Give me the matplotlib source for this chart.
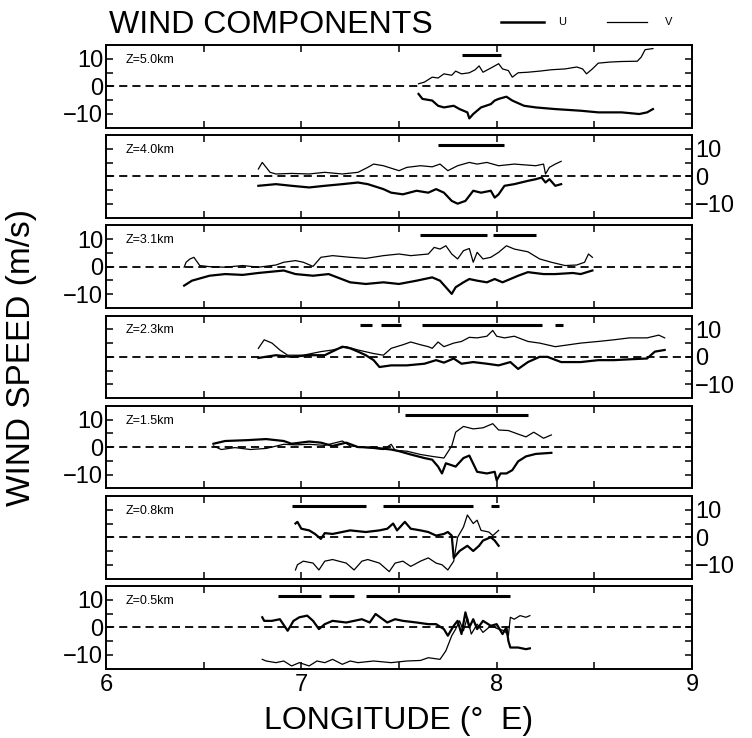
import matplotlib
matplotlib.use("Agg")
import matplotlib.pyplot as plt
from matplotlib.lines import Line2D
import numpy as np

plt.rcParams["font.family"] = ["Liberation Sans", "DejaVu Sans"]

# ---- data (longitude, m/s) ----
heights = ["Z=5.0km", "Z=4.0km", "Z=3.1km", "Z=2.3km", "Z=1.5km", "Z=0.8km", "Z=0.5km"]

# Z = 5.0 km
lon_u_50 = [7.60, 7.62, 7.67, 7.70, 7.73, 7.78, 7.81, 7.85, 7.86, 7.88, 7.92, 7.97, 7.99, 8.01, 8.05, 8.08, 8.14, 8.20, 8.30, 8.43, 8.52, 8.64, 8.73, 8.77, 8.80]
u_50 = [-2.8, -4.6, -5.2, -7.1, -7.7, -7.1, -8.3, -9.5, -11.7, -10.1, -7.7, -6.5, -5.2, -4.6, -3.8, -5.2, -7.1, -7.7, -8.3, -8.9, -9.5, -9.5, -10.1, -9.5, -8.3]
lon_v_50 = [7.60, 7.63, 7.67, 7.70, 7.73, 7.77, 7.79, 7.82, 7.86, 7.89, 7.91, 7.93, 7.98, 8.01, 8.03, 8.06, 8.08, 8.11, 8.16, 8.22, 8.28, 8.35, 8.41, 8.44, 8.46, 8.49, 8.52, 8.58, 8.64, 8.72, 8.74, 8.76, 8.80]
v_50 = [0.9, 1.5, 3.3, 3.0, 4.5, 4.0, 5.5, 4.5, 4.9, 6.0, 7.4, 5.1, 7.0, 8.2, 6.3, 5.7, 3.3, 4.9, 5.1, 5.5, 6.0, 6.3, 7.0, 6.3, 4.5, 6.3, 8.4, 8.8, 9.0, 9.1, 10.6, 13.3, 13.7]
seg_50 = [(7.82, 8.02)]

# Z = 4.0 km
lon_u_40 = [6.78, 6.87, 6.95, 7.04, 7.12, 7.21, 7.29, 7.34, 7.42, 7.46, 7.52, 7.59, 7.65, 7.69, 7.73, 7.77, 7.80, 7.84, 7.88, 7.92, 7.97, 7.99, 8.01, 8.04, 8.09, 8.16, 8.20, 8.23, 8.25, 8.27, 8.30, 8.33]
u_40 = [-3.4, -2.8, -3.4, -4.0, -3.4, -2.8, -2.2, -2.8, -4.6, -5.9, -6.5, -5.2, -5.9, -4.6, -5.9, -8.9, -9.9, -8.9, -5.2, -5.9, -5.2, -7.7, -6.5, -3.4, -2.8, -1.6, -1.0, -0.4, -2.2, -1.0, -3.4, -2.8]
lon_v_40 = [6.78, 6.80, 6.84, 6.87, 6.95, 7.04, 7.12, 7.21, 7.29, 7.34, 7.37, 7.42, 7.46, 7.50, 7.54, 7.61, 7.67, 7.71, 7.75, 7.80, 7.86, 7.90, 7.95, 8.01, 8.09, 8.20, 8.24, 8.25, 8.27, 8.30, 8.33]
v_40 = [2.7, 5.1, 1.5, 0.9, 1.1, 0.9, 1.5, 0.9, 1.5, 3.3, 4.5, 3.9, 3.0, 2.1, 3.3, 3.9, 3.5, 4.5, 2.1, 3.9, 5.1, 4.5, 5.1, 3.9, 4.5, 3.9, 4.5, 0.9, 3.3, 4.5, 5.5]
seg_40 = [(7.70, 8.04)]

# Z = 3.1 km
lon_u_31 = [6.40, 6.44, 6.53, 6.61, 6.70, 6.78, 6.91, 6.97, 7.06, 7.14, 7.25, 7.33, 7.42, 7.50, 7.59, 7.67, 7.71, 7.74, 7.77, 7.79, 7.83, 7.86, 7.90, 7.95, 7.99, 8.03, 8.07, 8.11, 8.16, 8.24, 8.30, 8.39, 8.43, 8.49]
u_31 = [-6.9, -5.1, -3.3, -2.7, -3.0, -2.3, -1.4, -2.7, -3.3, -2.7, -5.7, -6.3, -5.7, -6.3, -5.1, -3.9, -5.1, -7.5, -9.9, -7.5, -5.7, -4.5, -5.1, -5.7, -4.5, -5.7, -4.5, -3.3, -2.0, -2.7, -2.7, -2.3, -2.7, -1.4]
lon_v_31 = [6.40, 6.41, 6.43, 6.45, 6.48, 6.53, 6.61, 6.70, 6.78, 6.87, 6.91, 6.97, 7.01, 7.06, 7.10, 7.16, 7.25, 7.33, 7.42, 7.50, 7.56, 7.65, 7.68, 7.71, 7.74, 7.77, 7.80, 7.83, 7.86, 7.88, 7.90, 7.93, 7.97, 8.01, 8.05, 8.09, 8.16, 8.22, 8.28, 8.35, 8.41, 8.45, 8.47, 8.49]
v_31 = [-0.2, 1.6, 2.8, 3.4, 0.4, 0.0, -0.2, 0.4, -0.2, 0.6, 1.6, 2.2, 1.6, 0.1, 3.4, 4.0, 3.4, 3.0, 4.0, 4.6, 4.0, 4.6, 7.0, 6.4, 7.6, 4.6, 2.8, 5.8, 6.6, 1.6, 5.2, 2.8, 3.4, 5.2, 7.6, 6.4, 5.4, 2.8, 1.6, 0.4, 0.6, 1.6, 4.6, 3.4]
seg_31 = [(7.61, 7.95), (7.98, 8.20)]

# Z = 2.3 km
lon_u_23 = [6.78, 6.87, 6.95, 7.04, 7.12, 7.21, 7.25, 7.29, 7.33, 7.37, 7.40, 7.46, 7.54, 7.63, 7.69, 7.73, 7.78, 7.82, 7.88, 7.95, 8.01, 8.07, 8.11, 8.16, 8.22, 8.26, 8.33, 8.43, 8.52, 8.60, 8.68, 8.77, 8.81, 8.86]
u_23 = [-0.4, 0.6, 0.0, 0.6, 0.6, 3.7, 3.1, 1.9, 0.6, -1.2, -3.7, -3.1, -3.1, -2.5, -1.2, -2.1, -0.6, -2.5, -1.9, -2.5, -3.1, -1.9, -4.4, -1.9, 0.0, 0.0, -1.9, -1.9, -1.2, -1.2, -0.9, -0.6, 1.9, 2.5]
lon_v_23 = [6.78, 6.81, 6.85, 6.89, 6.93, 7.01, 7.10, 7.16, 7.23, 7.29, 7.37, 7.42, 7.46, 7.52, 7.56, 7.61, 7.65, 7.67, 7.70, 7.73, 7.78, 7.82, 7.86, 7.90, 7.95, 7.98, 8.00, 8.04, 8.09, 8.16, 8.22, 8.30, 8.37, 8.43, 8.52, 8.60, 8.68, 8.77, 8.83, 8.86]
v_23 = [3.1, 6.2, 5.0, 2.5, 0.6, 0.6, 1.9, 2.5, 3.7, 2.5, 1.2, 0.6, 3.1, 4.4, 5.4, 4.4, 3.7, 3.1, 5.4, 3.7, 5.0, 5.6, 7.1, 6.9, 7.5, 9.6, 7.5, 6.9, 7.5, 5.6, 5.0, 3.7, 4.4, 5.0, 5.6, 6.2, 6.9, 6.9, 7.9, 6.9]
seg_23 = [(7.30, 7.36), (7.41, 7.51), (7.62, 8.23), (8.30, 8.34)]

# Z = 1.5 km
lon_u_15 = [6.55, 6.61, 6.72, 6.82, 6.91, 6.95, 7.04, 7.10, 7.16, 7.23, 7.29, 7.37, 7.46, 7.50, 7.56, 7.63, 7.67, 7.70, 7.72, 7.74, 7.79, 7.83, 7.86, 7.90, 7.95, 7.99, 8.00, 8.02, 8.05, 8.08, 8.11, 8.15, 8.20, 8.28]
u_15 = [1.2, 2.2, 2.5, 2.9, 2.2, 1.2, 2.0, 1.6, 0.4, 1.6, 0.0, -0.2, -0.9, -1.5, -2.7, -4.0, -4.6, -7.1, -9.6, -5.9, -7.1, -4.0, -3.1, -9.0, -9.6, -9.0, -12.1, -9.6, -9.6, -8.4, -5.2, -3.4, -2.5, -2.1]
lon_v_15 = [6.55, 6.59, 6.66, 6.74, 6.82, 6.91, 6.97, 7.04, 7.12, 7.21, 7.25, 7.33, 7.42, 7.46, 7.48, 7.54, 7.61, 7.67, 7.73, 7.77, 7.79, 7.83, 7.88, 7.93, 7.98, 8.01, 8.06, 8.11, 8.15, 8.19, 8.24, 8.28]
v_15 = [0.4, -0.9, -0.2, -0.9, -0.5, 1.0, 0.8, 1.0, 0.6, 2.2, 0.4, -0.2, -0.9, 1.0, -1.2, -1.5, -2.7, -3.4, -4.0, 0.4, 5.4, 7.5, 6.6, 7.0, 8.5, 6.2, 6.0, 4.7, 3.7, 5.4, 3.2, 4.4]
seg_15 = [(7.53, 8.16)]

# Z = 0.8 km
lon_u_08 = [6.97, 6.98, 7.00, 7.04, 7.07, 7.10, 7.12, 7.16, 7.25, 7.33, 7.40, 7.44, 7.47, 7.49, 7.53, 7.56, 7.61, 7.65, 7.69, 7.73, 7.75, 7.77, 7.78, 7.81, 7.85, 7.88, 7.91, 7.93, 7.97, 7.99, 8.01]
u_08 = [5.0, 5.6, 3.1, 2.5, 1.2, -0.6, 1.5, 1.2, 2.5, 1.9, 2.5, 3.1, 5.0, 2.5, 5.6, 3.1, 2.5, 1.9, 0.6, 1.2, 1.9, 0.6, -7.5, -5.0, -3.1, -5.0, -3.1, -1.2, 0.0, -1.2, -3.1]
lon_v_08 = [6.97, 6.98, 7.01, 7.06, 7.09, 7.12, 7.16, 7.23, 7.27, 7.31, 7.34, 7.40, 7.45, 7.48, 7.52, 7.56, 7.61, 7.65, 7.69, 7.72, 7.75, 7.78, 7.80, 7.83, 7.85, 7.88, 7.90, 7.92, 7.96, 7.98, 8.01]
v_08 = [-11.9, -10.0, -8.7, -9.4, -11.9, -8.7, -8.1, -9.4, -11.9, -8.7, -8.1, -9.4, -12.5, -9.4, -8.7, -10.6, -8.7, -7.5, -9.4, -10.0, -11.9, -8.7, 0.0, 3.7, 8.1, 5.0, 6.2, 2.5, 1.9, 0.6, 2.5]
seg_08 = [(6.95, 7.33), (7.42, 7.88), (7.97, 8.01)]

# Z = 0.5 km
lon_u_05 = [6.80, 6.81, 6.85, 6.89, 6.93, 6.96, 6.99, 7.03, 7.06, 7.09, 7.12, 7.16, 7.23, 7.27, 7.31, 7.35, 7.38, 7.44, 7.48, 7.52, 7.59, 7.65, 7.69, 7.73, 7.75, 7.78, 7.80, 7.82, 7.84, 7.86, 7.88, 7.90, 7.93, 7.97, 8.00, 8.03, 8.05, 8.06, 8.07, 8.11, 8.15, 8.17]
u_05 = [3.7, 2.4, 2.4, 3.0, -1.2, 2.4, 3.7, 4.3, 2.4, -0.6, 1.2, 2.4, 1.8, 2.4, 3.0, 1.8, 4.9, 1.8, 3.0, 2.4, 1.8, 1.2, 1.2, -0.6, -3.0, 0.6, 2.4, -2.4, 5.5, 0.0, 3.0, -0.6, 2.4, 0.6, 1.2, -2.4, 0.0, -4.9, -7.3, -7.3, -7.9, -7.6]
lon_v_05 = [6.80, 6.82, 6.87, 6.91, 6.95, 6.99, 7.04, 7.08, 7.12, 7.16, 7.21, 7.25, 7.29, 7.37, 7.46, 7.54, 7.61, 7.65, 7.67, 7.71, 7.74, 7.77, 7.79, 7.81, 7.83, 7.85, 7.87, 7.90, 7.93, 7.97, 8.01, 8.04, 8.06, 8.07, 8.09, 8.12, 8.15, 8.17]
v_05 = [-11.6, -12.2, -12.8, -12.2, -14.0, -12.8, -14.0, -12.2, -12.8, -11.6, -13.4, -12.2, -12.8, -12.2, -12.8, -12.2, -12.0, -11.0, -11.2, -11.6, -8.5, -3.0, -0.6, 2.4, -1.2, 3.7, -2.4, 1.2, -1.8, 0.6, -0.6, -1.2, -3.0, 3.7, 3.0, 4.3, 3.7, 4.3]
seg_05 = [(6.88, 7.10), (7.14, 7.27), (7.33, 8.07)]

panels = [
    (lon_u_50, u_50, lon_v_50, v_50, seg_50),
    (lon_u_40, u_40, lon_v_40, v_40, seg_40),
    (lon_u_31, u_31, lon_v_31, v_31, seg_31),
    (lon_u_23, u_23, lon_v_23, v_23, seg_23),
    (lon_u_15, u_15, lon_v_15, v_15, seg_15),
    (lon_u_08, u_08, lon_v_08, v_08, seg_08),
    (lon_u_05, u_05, lon_v_05, v_05, seg_05),
]
seg_level = 11.5

W, H = 752, 738
fig = plt.figure(figsize=(W / 100, H / 100), dpi=100)

for i, (lu, u, lv, v, segs) in enumerate(panels):
    top = 45 + 90.2 * i
    ax = fig.add_axes([106 / W, 1 - (top + 82.5) / H, 586 / W, 82.5 / H])
    ax.plot(lv, v, color="black", lw=0.9)
    ax.plot(lu, u, color="black", lw=1.6)
    ax.axhline(0, color="black", lw=1.3, ls=(0, (4.5, 2.8)))
    for a, b in segs:
        ax.plot([a, b], [seg_level, seg_level], color="black", lw=2.2, solid_capstyle="butt")
    ax.set_xlim(6, 9)
    ax.set_ylim(-15, 15)
    ax.text(0.034, 0.82, heights[i], transform=ax.transAxes, fontsize=9, va="center")

    ax.set_xticks(np.arange(6, 9.01, 0.5))
    ax.set_yticks([-10, -5, 0, 5, 10])
    ax.set_yticklabels(["\u221210", "", "0", "", "10"])
    ax.tick_params(direction="in", length=5, width=1.1, top=True, right=True,
                   labelsize=17, pad=2)
    if i % 2 == 1:
        ax.tick_params(labelleft=False, labelright=True)
    if i == 6:
        ax.set_xticklabels(["6", "", "7", "", "8", "", "9"])
        ax.tick_params(axis="x", labelsize=17, pad=4)
    else:
        ax.tick_params(labelbottom=False)
    for s in ax.spines.values():
        s.set_linewidth(1.4)

# title and legend
fig.text(109 / W, 1 - 33 / H, "WIND COMPONENTS", fontsize=23, va="baseline")
fig.add_artist(Line2D([501 / W, 544 / W], [1 - 22 / H, 1 - 22 / H], color="black", lw=1.8))
fig.text(558 / W, 1 - 22 / H, "U", fontsize=8, va="center")
fig.add_artist(Line2D([607 / W, 647 / W], [1 - 22 / H, 1 - 22 / H], color="black", lw=0.9))
fig.text(665 / W, 1 - 22 / H, "V", fontsize=8, va="center")

fig.text(22 / W, 1 - 357 / H, "WIND SPEED (m/s)", fontsize=24, rotation=90,
         ha="center", va="center")
fig.text(399 / W, 1 - 729 / H, "LONGITUDE (\u00b0  E)", fontsize=23, ha="center",
         va="baseline")

fig.savefig("out.png", dpi=100)
